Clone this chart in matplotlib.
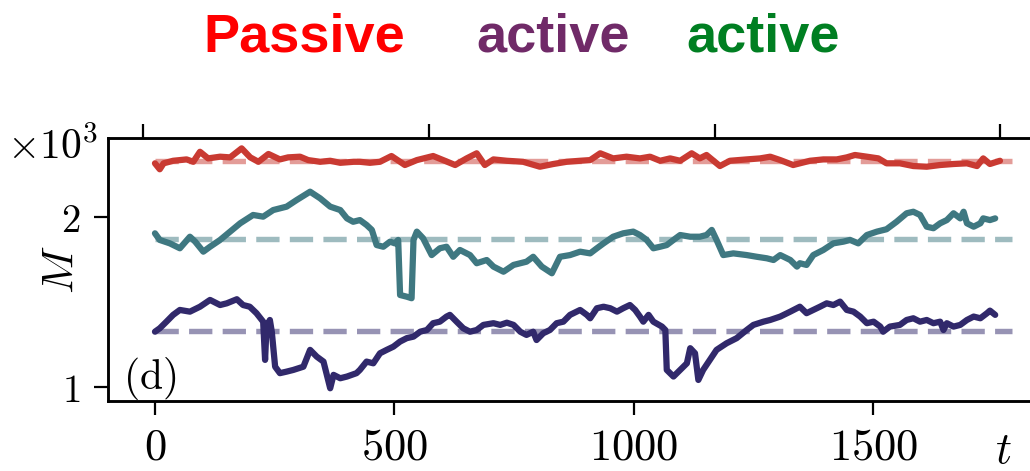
import matplotlib
matplotlib.use('Agg')
import matplotlib.pyplot as plt

plt.rcParams['mathtext.fontset'] = 'cm'

# passive particles (red)
t_passive = [0, 10, 18, 38, 66, 80, 94, 111, 136, 157, 181, 199, 216, 237, 261, 278, 303, 320, 345, 366,
             387, 415, 428, 449, 470, 494, 522, 547, 581, 602, 627, 651, 672, 689, 707, 735, 769, 804, 832, 860,
             888, 909, 930, 957, 985, 1013, 1034, 1055, 1076, 1097, 1121, 1138, 1152, 1180, 1201, 1236, 1264,
             1285, 1306, 1333, 1347, 1368, 1396, 1424, 1445, 1462, 1487, 1511, 1528, 1556, 1584, 1612, 1640,
             1668, 1696, 1717, 1730, 1744, 1765]
m_passive = [2316, 2281, 2316, 2331, 2339, 2325, 2384, 2345, 2355, 2351, 2404, 2351, 2325, 2371, 2339, 2351,
             2355, 2335, 2325, 2331, 2319, 2325, 2325, 2319, 2325, 2359, 2306, 2335, 2359, 2335, 2306, 2345,
             2375, 2306, 2339, 2331, 2325, 2296, 2312, 2325, 2331, 2335, 2375, 2345, 2355, 2345, 2355, 2331,
             2345, 2331, 2375, 2345, 2365, 2300, 2331, 2339, 2345, 2355, 2335, 2306, 2316, 2331, 2339, 2339,
             2351, 2365, 2355, 2345, 2316, 2316, 2300, 2296, 2306, 2312, 2316, 2300, 2345, 2312, 2331]

# active particles, green species
t_green = [0, 10, 31, 52, 73, 84, 101, 115, 136, 157, 178, 205, 226, 247, 275, 296, 324, 345, 366, 387,
           401, 414, 428, 442, 453, 463, 477, 491, 501, 508, 512, 526, 536, 540, 547, 560, 578, 595, 609, 623,
           637, 658, 672, 693, 707, 728, 749, 776, 790, 808, 829, 846, 867, 888, 909, 923, 937, 957, 978, 999,
           1013, 1027, 1041, 1055, 1069, 1083, 1097, 1118, 1138, 1152, 1163, 1173, 1187, 1208, 1236, 1257,
           1278, 1292, 1306, 1327, 1341, 1347, 1361, 1375, 1396, 1417, 1438, 1452, 1469, 1487, 1508, 1528,
           1549, 1570, 1584, 1598, 1612, 1626, 1640, 1654, 1668, 1682, 1689, 1696, 1710, 1724, 1730, 1744, 1755]
m_green = [1904, 1865, 1845, 1816, 1884, 1855, 1796, 1825, 1865, 1914, 1963, 2012, 2002, 2041, 2061, 2100,
           2149, 2110, 2061, 2041, 1992, 1972, 1982, 1953, 1924, 1835, 1825, 1855, 1845, 1865, 1541, 1531,
           1522, 1865, 1914, 1875, 1776, 1816, 1825, 1766, 1806, 1776, 1728, 1747, 1708, 1678, 1718, 1737,
           1766, 1708, 1669, 1766, 1776, 1796, 1786, 1816, 1845, 1884, 1904, 1914, 1894, 1865, 1816, 1825,
           1835, 1865, 1894, 1884, 1884, 1894, 1924, 1865, 1776, 1786, 1776, 1766, 1757, 1747, 1776, 1747,
           1708, 1728, 1718, 1776, 1806, 1845, 1855, 1865, 1845, 1894, 1914, 1928, 1972, 2022, 2031, 2012,
           1943, 1934, 1963, 1982, 2022, 1992, 2031, 1963, 1943, 1963, 1992, 1982, 1992]

# active particles, purple species
t_purple = [0, 10, 24, 38, 52, 73, 94, 115, 136, 150, 171, 184, 198, 212, 226, 230, 233, 240, 244, 251,
            261, 275, 289, 310, 324, 338, 352, 366, 373, 387, 401, 421, 428, 442, 456, 470, 484, 498, 512, 526,
            540, 554, 568, 581, 595, 609, 616, 630, 644, 658, 672, 686, 707, 721, 735, 749, 763, 776, 790, 797,
            811, 825, 839, 853, 867, 888, 902, 909, 923, 937, 951, 965, 978, 992, 1003, 1013, 1020, 1031, 1041,
            1059, 1066, 1069, 1083, 1097, 1111, 1118, 1128, 1135, 1145, 1159, 1173, 1194, 1215, 1236, 1250,
            1271, 1285, 1306, 1327, 1347, 1361, 1375, 1389, 1403, 1417, 1431, 1445, 1459, 1473, 1487, 1501,
            1515, 1521, 1535, 1556, 1570, 1584, 1598, 1612, 1626, 1640, 1647, 1654, 1668, 1682, 1696, 1710,
            1724, 1738, 1744, 1755]
m_purple = [1325, 1345, 1384, 1424, 1453, 1443, 1472, 1512, 1482, 1492, 1516, 1482, 1472, 1434, 1384, 1159,
            1355, 1394, 1325, 1119, 1081, 1090, 1100, 1119, 1218, 1178, 1149, 992, 1071, 1051, 1061, 1081,
            1100, 1149, 1139, 1198, 1218, 1237, 1267, 1287, 1296, 1325, 1335, 1375, 1384, 1414, 1424, 1384,
            1345, 1325, 1335, 1365, 1375, 1365, 1378, 1365, 1325, 1306, 1325, 1276, 1316, 1335, 1375, 1384,
            1424, 1453, 1424, 1404, 1463, 1472, 1463, 1443, 1463, 1482, 1453, 1414, 1384, 1424, 1384, 1355,
            1335, 1100, 1061, 1100, 1139, 1228, 1198, 1041, 1100, 1159, 1218, 1257, 1287, 1335, 1365, 1384,
            1394, 1414, 1443, 1472, 1434, 1453, 1472, 1492, 1482, 1502, 1453, 1443, 1414, 1375, 1384, 1355,
            1325, 1355, 1365, 1394, 1404, 1384, 1394, 1375, 1384, 1335, 1375, 1355, 1365, 1394, 1414, 1404,
            1434, 1449, 1424]

# mean values (dashed)
mean_passive = 2330
mean_green = 1870
mean_purple = 1330
t_mean = [0, 1790]

x_ticks = [0, 500, 1000, 1500]
y_ticks = [1000, 2000]

c_red = '#c93a32'
c_green = '#3f7881'
c_purple = '#31296b'

fig = plt.figure(figsize=(10.3, 4.71), dpi=100)
ax = fig.add_axes([0.1049, 0.1493, 0.905, 0.5577])

dash = dict(lw=3.9, alpha=0.5, dashes=(4.3, 1.9), zorder=1)
ax.plot(t_mean, [mean_passive] * 2, color=c_red, **dash)
ax.plot(t_mean, [mean_green] * 2, color=c_green, **dash)
ax.plot(t_mean, [mean_purple] * 2, color=c_purple, **dash)

line = dict(lw=4.5, solid_joinstyle='round', solid_capstyle='round', zorder=2)
ax.plot(t_passive, m_passive, color=c_red, **line)
ax.plot(t_green, m_green, color=c_green, **line)
ax.plot(t_purple, m_purple, color=c_purple, **line)

ax.set_xlim(-98, 1849)
ax.set_ylim(919, 2465)
ax.set_xticks(x_ticks, labels=['$%d$' % v for v in x_ticks])
ax.set_yticks(y_ticks, labels=['$%d$' % (v // 1000) for v in y_ticks])
ax.tick_params(axis='x', length=10, width=1.6, labelsize=32, pad=8)
ax.tick_params(axis='y', length=10, width=1.6, labelsize=28, pad=10)
for s in ax.spines.values():
    s.set_linewidth(1.8)

# top axis: ticks only
top = ax.twiny()
top.set_xlim((-98 + 25) / 597, (1849 + 25) / 597)
top.set_xticks([0, 1, 2, 3], labels=[])
top.tick_params(axis='x', length=10, width=1.6)
for s in top.spines.values():
    s.set_linewidth(1.8)

fig.text(98 / 1030, 1 - 159 / 471, r'$\times10^{3}$', fontsize=30, ha='right', va='baseline')
ax.text(-0.0504, 0.5, '$M$', transform=ax.transAxes, fontsize=32, rotation=90, ha='center', va='center')
fig.text(1003 / 1030, 1 - 451 / 471, '$t$', fontsize=32, ha='center', va='center')
ax.text(0.016, 0.045, r'$(\mathrm{d})$', transform=ax.transAxes, fontsize=30, ha='left', va='baseline')

# colored header
head_y = 1 - 52 / 471
fig.text(203 / 1030, head_y, 'Passive', color='#ff0000', fontsize=39, fontweight='bold',
         family='Liberation Sans', va='baseline')
fig.text(476 / 1030, head_y, 'active', color='#702a68', fontsize=39, fontweight='bold',
         family='Liberation Sans', va='baseline')
fig.text(686 / 1030, head_y, 'active', color='#007f22', fontsize=39, fontweight='bold',
         family='Liberation Sans', va='baseline')

fig.savefig('out.png', dpi=100)
